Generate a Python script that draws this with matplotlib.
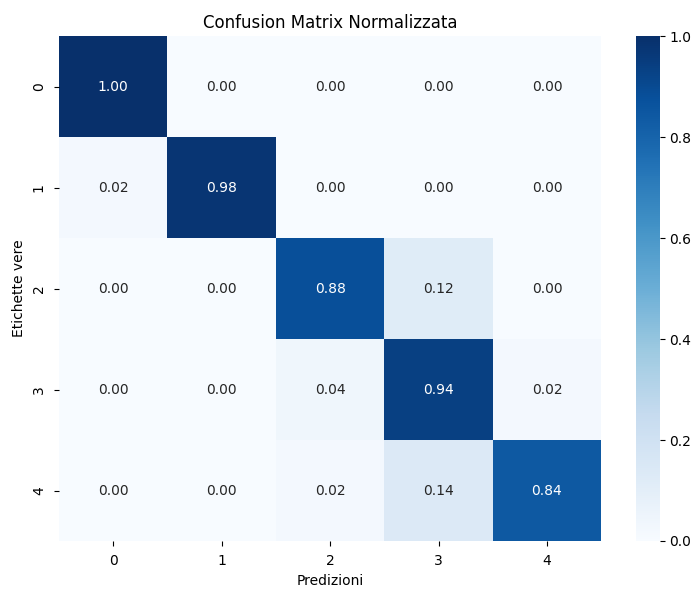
import numpy as np
import matplotlib
matplotlib.use("Agg")
import matplotlib.pyplot as plt
import seaborn as sns

classes = ["0", "1", "2", "3", "4"]
row_0 = [1.00, 0.00, 0.00, 0.00, 0.00]
row_1 = [0.02, 0.98, 0.00, 0.00, 0.00]
row_2 = [0.00, 0.00, 0.88, 0.12, 0.00]
row_3 = [0.00, 0.00, 0.04, 0.94, 0.02]
row_4 = [0.00, 0.00, 0.02, 0.14, 0.84]

cm_norm = np.array([row_0, row_1, row_2, row_3, row_4])

fig = plt.figure(figsize=(6.95, 5.89), dpi=100)
ax = fig.add_axes([0.085, 0.0815, 0.780, 0.857])
cax = fig.add_axes([0.915, 0.0815, 0.0345, 0.857])

sns.heatmap(cm_norm, annot=True, fmt=".2f", cmap="Blues",
            xticklabels=classes, yticklabels=classes,
            vmin=0, vmax=1, ax=ax, cbar_ax=cax)

ax.set_title("Confusion Matrix Normalizzata", fontsize=12)
ax.set_xlabel("Predizioni")
ax.set_ylabel("Etichette vere")
ax.tick_params(pad=6)

fig.savefig("out.png", dpi=100)
